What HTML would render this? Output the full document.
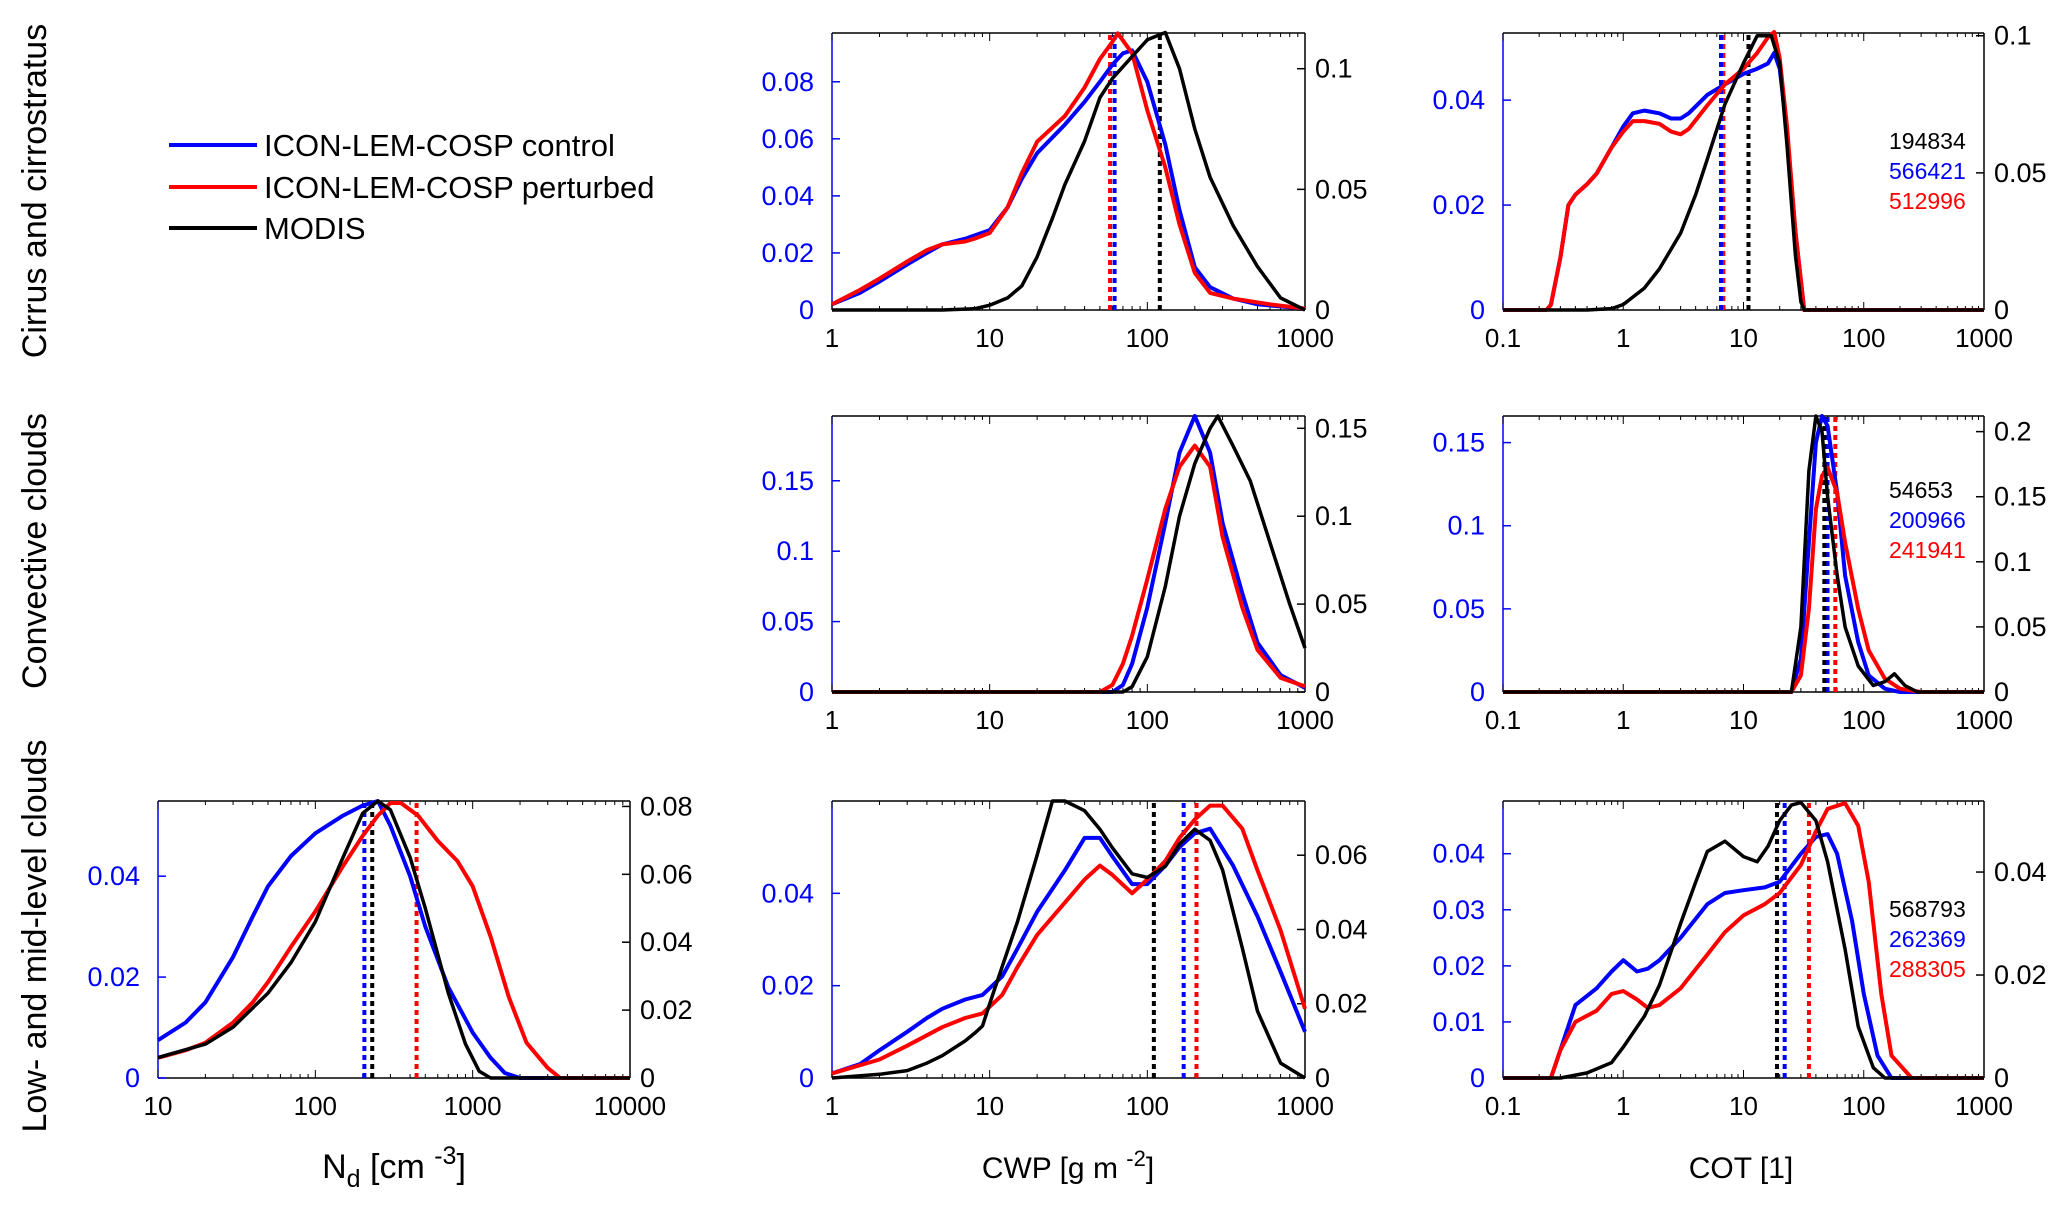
<!DOCTYPE html>
<html><head><meta charset="utf-8">
<style>
html,body{margin:0;padding:0;background:#fff;}
svg{display:block;font-family:"Liberation Sans",Arial,sans-serif;}
</style></head>
<body>
<svg id="fig" width="2067" height="1218" viewBox="0 0 2067 1218" xmlns="http://www.w3.org/2000/svg">
<g>
  <line x1="169" y1="145" x2="257" y2="145" stroke="#0000ff" stroke-width="4"/>
  <text x="264" y="156" font-size="31" fill="#000">ICON-LEM-COSP control</text>
  <line x1="169" y1="187" x2="257" y2="187" stroke="#ff0000" stroke-width="4"/>
  <text x="264" y="198" font-size="31" fill="#000">ICON-LEM-COSP perturbed</text>
  <line x1="169" y1="228" x2="257" y2="228" stroke="#000" stroke-width="4"/>
  <text x="264" y="239" font-size="31" fill="#000">MODIS</text>
</g>
<text transform="translate(46,191) rotate(-90)" text-anchor="middle" font-size="34">Cirrus and cirrostratus</text>
<text transform="translate(46,551) rotate(-90)" text-anchor="middle" font-size="34">Convective clouds</text>
<text transform="translate(46,936) rotate(-90)" text-anchor="middle" font-size="34">Low- and mid-level clouds</text>
<text x="394" y="1178" text-anchor="middle" font-size="34">N<tspan font-size="25" dy="9">d</tspan><tspan dy="-9"> [cm </tspan><tspan font-size="25" dy="-14">-3</tspan><tspan dy="14">]</tspan></text>
<text x="1068" y="1178" text-anchor="middle" font-size="30">CWP [g m <tspan font-size="22" dy="-12">-2</tspan><tspan dy="12">]</tspan></text>
<text x="1741" y="1178" text-anchor="middle" font-size="30">COT [1]</text>
</svg>
<script>
// ---------- data ----------
// Row 1 CWP (cirrus)
const cwp1Blue = [[1,0.002],[1.5,0.006],[2,0.010],[3,0.016],[4,0.020],[5,0.023],[7,0.025],[10,0.028],[13,0.036],[16,0.046],[20,0.055],[30,0.065],[40,0.073],[50,0.080],[60,0.086],[70,0.090],[80,0.091],[100,0.080],[130,0.058],[160,0.035],[200,0.015],[250,0.008],[350,0.004],[500,0.002],[1000,0.0005]];
const cwp1Red = [[1,0.002],[1.5,0.007],[2,0.011],[3,0.017],[4,0.021],[5,0.023],[7,0.024],[8,0.025],[10,0.027],[13,0.036],[16,0.048],[20,0.059],[30,0.068],[40,0.078],[50,0.088],[60,0.094],[65,0.097],[80,0.090],[100,0.070],[130,0.050],[160,0.030],[200,0.013],[250,0.006],[350,0.004],[600,0.002],[1000,0.0005]];
const cwp1Black = [[1,0],[5,0],[8,0.0005],[10,0.002],[13,0.005],[16,0.010],[20,0.022],[25,0.038],[30,0.052],[40,0.070],[50,0.088],[60,0.096],[80,0.105],[100,0.112],[130,0.115],[160,0.100],[200,0.075],[250,0.055],[350,0.035],[500,0.018],[700,0.005],[1000,0]];
const cwp1Medians = [58,62,120];
// Row 1 COT
const cot1Blue = [[0.1,0],[0.23,0],[0.25,0.001],[0.3,0.010],[0.35,0.020],[0.4,0.022],[0.5,0.024],[0.6,0.026],[0.8,0.031],[1,0.035],[1.2,0.0375],[1.5,0.038],[2,0.0375],[2.5,0.0365],[3,0.0365],[3.5,0.0375],[5,0.041],[7,0.043],[10,0.045],[13,0.046],[16,0.047],[18,0.049],[20,0.046],[23,0.034],[27,0.015],[32,0],[1000,0]];
const cot1Red = [[0.1,0],[0.23,0],[0.25,0.001],[0.3,0.010],[0.35,0.020],[0.4,0.022],[0.5,0.024],[0.6,0.026],[0.8,0.031],[1,0.034],[1.2,0.036],[1.5,0.036],[2,0.0355],[2.5,0.034],[3,0.0335],[3.5,0.0345],[5,0.039],[7,0.043],[10,0.046],[13,0.049],[16,0.052],[18,0.053],[20,0.048],[23,0.035],[27,0.015],[32,0],[1000,0]];
const cot1Black = [[0.1,0],[0.5,0],[0.8,0.0005],[1,0.002],[1.5,0.008],[2,0.015],[3,0.028],[4,0.042],[5,0.055],[7,0.075],[10,0.090],[13,0.100],[17,0.100],[20,0.090],[23,0.060],[27,0.020],[30,0.003],[32,0],[1000,0]];
const cot1Medians = [6.8,6.5,11];
const cot1Counts = ["194834","566421","512996"];
// Row 2 CWP
const cwp2Blue = [[1,0],[60,0],[70,0.005],[80,0.02],[100,0.06],[130,0.12],[160,0.17],[200,0.196],[250,0.17],[300,0.12],[400,0.07],[500,0.035],[700,0.012],[1000,0.003]];
const cwp2Red = [[1,0],[50,0],[60,0.005],[70,0.02],[80,0.04],[100,0.08],[130,0.13],[160,0.16],[200,0.175],[250,0.16],[300,0.11],[400,0.06],[500,0.03],[700,0.01],[1000,0.004]];
const cwp2Black = [[1,0],[70,0],[80,0.003],[100,0.02],[130,0.06],[160,0.10],[200,0.13],[250,0.15],[280,0.157],[350,0.14],[450,0.12],[600,0.085],[800,0.05],[1000,0.025]];
// Row 2 COT
const cot2Blue = [[0.1,0],[25,0],[30,0.02],[35,0.09],[40,0.15],[45,0.166],[50,0.16],[60,0.12],[70,0.07],[90,0.03],[110,0.01],[150,0.002],[200,0],[1000,0]];
const cot2Red = [[0.1,0],[25,0],[30,0.01],[35,0.05],[40,0.11],[45,0.13],[50,0.135],[60,0.12],[70,0.09],[90,0.05],[110,0.025],[150,0.008],[200,0.002],[300,0],[1000,0]];
const cot2Black = [[0.1,0],[25,0],[30,0.05],[35,0.17],[40,0.212],[45,0.2],[50,0.15],[60,0.09],[70,0.05],[90,0.02],[120,0.005],[150,0.008],[180,0.014],[220,0.005],[280,0],[1000,0]];
const cot2Medians = [58,50,47];
const cot2Counts = ["54653","200966","241941"];
// Row 3 Nd
const nd3Blue = [[10,0.0075],[15,0.011],[20,0.015],[30,0.024],[40,0.032],[50,0.038],[70,0.044],[100,0.0485],[150,0.052],[200,0.054],[250,0.0549],[300,0.050],[400,0.040],[500,0.030],[700,0.018],[1000,0.009],[1300,0.004],[1600,0.001],[2000,0],[10000,0]];
const nd3Red = [[10,0.004],[15,0.0055],[20,0.007],[30,0.011],[40,0.015],[50,0.019],[70,0.026],[100,0.033],[150,0.042],[200,0.048],[250,0.052],[300,0.0545],[350,0.0545],[450,0.052],[600,0.047],[800,0.043],[1000,0.038],[1300,0.028],[1700,0.016],[2200,0.007],[3000,0.002],[3600,0],[10000,0]];
const nd3Black = [[10,0.006],[20,0.010],[30,0.015],[50,0.025],[70,0.034],[100,0.046],[150,0.065],[200,0.078],[250,0.0816],[300,0.079],[400,0.065],[500,0.050],[700,0.025],[900,0.010],[1100,0.002],[1300,0],[10000,0]];
const nd3Medians = [440,205,230];
// Row 3 CWP
const cwp3Blue = [[1,0.001],[1.5,0.003],[2,0.006],[3,0.010],[4,0.013],[5,0.015],[7,0.017],[9,0.018],[12,0.022],[15,0.028],[20,0.036],[30,0.045],[40,0.052],[50,0.052],[60,0.048],[80,0.042],[100,0.042],[130,0.046],[160,0.050],[200,0.053],[250,0.054],[350,0.046],[500,0.035],[700,0.023],[1000,0.010]];
const cwp3Red = [[1,0.001],[2,0.004],[3,0.007],[5,0.011],[7,0.013],[9,0.014],[12,0.018],[15,0.024],[20,0.031],[30,0.038],[40,0.043],[50,0.046],[60,0.044],[80,0.040],[100,0.043],[130,0.047],[160,0.052],[200,0.056],[250,0.059],[300,0.059],[400,0.054],[500,0.045],[700,0.032],[1000,0.015]];
const cwp3Black = [[1,0],[2,0.001],[3,0.002],[4,0.004],[5,0.006],[7,0.010],[8,0.012],[9,0.014],[10,0.020],[12,0.030],[15,0.042],[20,0.060],[25,0.0746],[30,0.0746],[40,0.072],[50,0.067],[60,0.062],[80,0.055],[100,0.054],[130,0.057],[160,0.063],[200,0.067],[250,0.064],[300,0.056],[400,0.035],[500,0.018],[700,0.004],[1000,0]];
const cwp3Medians = [205,170,110];
// Row 3 COT
const cot3Blue = [[0.1,0],[0.25,0],[0.3,0.005],[0.4,0.013],[0.6,0.016],[0.8,0.019],[1,0.021],[1.3,0.019],[1.6,0.0195],[2,0.021],[3,0.025],[5,0.031],[7,0.033],[10,0.0335],[15,0.034],[20,0.035],[30,0.040],[40,0.043],[50,0.0435],[60,0.040],[80,0.028],[100,0.015],[130,0.004],[170,0],[1000,0]];
const cot3Red = [[0.1,0],[0.25,0],[0.3,0.005],[0.4,0.010],[0.6,0.012],[0.8,0.015],[1,0.0155],[1.3,0.014],[1.6,0.0125],[2,0.013],[3,0.016],[5,0.022],[7,0.026],[10,0.029],[15,0.031],[20,0.033],[30,0.038],[40,0.044],[50,0.048],[70,0.049],[90,0.045],[110,0.035],[140,0.015],[170,0.004],[250,0],[1000,0]];
const cot3Black = [[0.1,0],[0.3,0],[0.5,0.001],[0.8,0.003],[1,0.006],[1.5,0.012],[2,0.018],[3,0.030],[4,0.038],[5,0.044],[7,0.046],[10,0.043],[13,0.042],[16,0.045],[20,0.050],[25,0.053],[30,0.0535],[40,0.050],[50,0.042],[70,0.025],[90,0.010],[120,0.002],[150,0],[1000,0]];
const cot3Medians = [35,22,19];
const cot3Counts = ["568793","262369","288305"];

// tick labels
const cwp1LeftTicks = [0,0.02,0.04,0.06,0.08];
const cwp1RightTicks = [0,0.05,0.1];
const cot1LeftTicks = [0,0.02,0.04];
const cot1RightTicks = [0,0.05,0.1];
const cwp2LeftTicks = [0,0.05,0.1,0.15];
const cwp2RightTicks = [0,0.05,0.1,0.15];
const cot2LeftTicks = [0,0.05,0.1,0.15];
const cot2RightTicks = [0,0.05,0.1,0.15,0.2];
const nd3LeftTicks = [0,0.02,0.04];
const nd3RightTicks = [0,0.02,0.04,0.06,0.08];
const cwp3LeftTicks = [0,0.02,0.04];
const cwp3RightTicks = [0,0.02,0.04,0.06];
const cot3LeftTicks = [0,0.01,0.02,0.03,0.04];
const cot3RightTicks = [0,0.02,0.04];

// ---------- drawing ----------
const NS = "http://www.w3.org/2000/svg";
const svg = document.getElementById("fig");
function mk(tag, attrs, parent){
  const e = document.createElementNS(NS, tag);
  for (const k in attrs) e.setAttribute(k, attrs[k]);
  (parent||svg).appendChild(e);
  return e;
}
function fmt(v){ return String(v); }

function panel(cfg){
  const g = mk("g", {});
  
  
  const L=cfg.l,R=cfg.r,T=cfg.t,B=cfg.b;
  const lx0=Math.log10(cfg.xmin), lx1=Math.log10(cfg.xmax);
  const X = v => L + (Math.log10(v)-lx0)/(lx1-lx0)*(R-L);
  const YL = v => B - v/cfg.lmax*(B-T);
  const YR = v => B - v/cfg.rmax*(B-T);
  mk("line",{x1:L,y1:T,x2:R,y2:T,stroke:"#000","stroke-width":1.5},g);
  mk("line",{x1:L,y1:B,x2:R,y2:B,stroke:"#000","stroke-width":1.5},g);
  mk("line",{x1:R,y1:T,x2:R,y2:B,stroke:"#000","stroke-width":1.5},g);
  mk("line",{x1:L,y1:T,x2:L,y2:B,stroke:"#0000ff","stroke-width":1.5},g);
  for (let d=Math.round(lx0); d<Math.round(lx1); d++){
    for (let m=1;m<10;m++){
      const v=m*Math.pow(10,d); const x=X(v); const len=(m===1)?8:4;
      mk("line",{x1:x,y1:B,x2:x,y2:B-len,stroke:"#000","stroke-width":1},g);
      mk("line",{x1:x,y1:T,x2:x,y2:T+len,stroke:"#000","stroke-width":1},g);
    }
  }
  for (let d=Math.round(lx0); d<=Math.round(lx1); d++){
    const v=Math.pow(10,d);
    const t=mk("text",{x:X(v),y:B+37,"text-anchor":"middle","font-size":26,fill:"#000"},g);
    t.textContent = d<0 ? v.toFixed(-d) : String(v);
    
    
  }
  cfg.lticks.forEach(v=>{
    const y=YL(v);
    mk("line",{x1:L,y1:y,x2:L+8,y2:y,stroke:"#0000ff","stroke-width":1.5},g);
    const t=mk("text",{x:L-18,y:y+9,"text-anchor":"end","font-size":27,fill:"#0000ff"},g);
    t.textContent=fmt(v);
    
    
  });
  cfg.rticks.forEach(v=>{
    const y=YR(v);
    mk("line",{x1:R,y1:y,x2:R-8,y2:y,stroke:"#000","stroke-width":1.5},g);
    const t=mk("text",{x:R+10,y:y+9,"text-anchor":"start","font-size":27,fill:"#000"},g);
    t.textContent=fmt(v);
    
    
  });
  if (cfg.medians){
    const cols=["#ff0000","#0000ff","#000"];
    cfg.medians.forEach((v,i)=>{
      const x=X(v);
      const ln=mk("line",{x1:x,y1:B,x2:x,y2:T,stroke:cols[i],"stroke-width":4,"stroke-dasharray":"5 4"},g);
      
      
    });
  }
  const ser=[[cfg.blue,"#0000ff",YL,"series-control"],[cfg.red,"#ff0000",YL,"series-perturbed"],[cfg.black,"#000",YR,"series-modis"]];
  ser.forEach(s=>{
    const pts=s[0].map(p=>X(p[0]).toFixed(1)+","+s[2](p[1]).toFixed(1)).join(" ");
    const pl=mk("polyline",{points:pts,fill:"none",stroke:s[1],"stroke-width":s[1]==="#000"?3.5:4,"stroke-linejoin":"round"},g);
    
    
  });
  if (cfg.counts){
    const cols=["#000","#0000ff","#ff0000"];
    cfg.counts.forEach((c,i)=>{
      const t=mk("text",{x:cfg.cx,y:cfg.cy+i*30,"font-size":23,fill:cols[i]},g);
      t.textContent=c;
      
      
    });
  }
}

const rows=[[33,310],[416,692],[801,1078]];
const colCWP=[832,1305], colCOT=[1503,1984], colNd=[158,630];

panel({name:"panel-cirrus-cwp",l:colCWP[0],r:colCWP[1],t:rows[0][0],b:rows[0][1],xmin:1,xmax:1000,lmax:0.0971,rmax:0.1148,lticks:cwp1LeftTicks,rticks:cwp1RightTicks,blue:cwp1Blue,red:cwp1Red,black:cwp1Black,medians:cwp1Medians});
panel({name:"panel-cirrus-cot",l:colCOT[0],r:colCOT[1],t:rows[0][0],b:rows[0][1],xmin:0.1,xmax:1000,lmax:0.0528,rmax:0.101,lticks:cot1LeftTicks,rticks:cot1RightTicks,blue:cot1Blue,red:cot1Red,black:cot1Black,medians:cot1Medians,counts:cot1Counts,cx:1889,cy:149});
panel({name:"panel-convective-cwp",l:colCWP[0],r:colCWP[1],t:rows[1][0],b:rows[1][1],xmin:1,xmax:1000,lmax:0.196,rmax:0.157,lticks:cwp2LeftTicks,rticks:cwp2RightTicks,blue:cwp2Blue,red:cwp2Red,black:cwp2Black});
panel({name:"panel-convective-cot",l:colCOT[0],r:colCOT[1],t:rows[1][0],b:rows[1][1],xmin:0.1,xmax:1000,lmax:0.166,rmax:0.212,lticks:cot2LeftTicks,rticks:cot2RightTicks,blue:cot2Blue,red:cot2Red,black:cot2Black,medians:cot2Medians,counts:cot2Counts,cx:1889,cy:498});
panel({name:"panel-low-nd",l:colNd[0],r:colNd[1],t:rows[2][0],b:rows[2][1],xmin:10,xmax:10000,lmax:0.0549,rmax:0.0816,lticks:nd3LeftTicks,rticks:nd3RightTicks,blue:nd3Blue,red:nd3Red,black:nd3Black,medians:nd3Medians});
panel({name:"panel-low-cwp",l:colCWP[0],r:colCWP[1],t:rows[2][0],b:rows[2][1],xmin:1,xmax:1000,lmax:0.06,rmax:0.0746,lticks:cwp3LeftTicks,rticks:cwp3RightTicks,blue:cwp3Blue,red:cwp3Red,black:cwp3Black,medians:cwp3Medians});
panel({name:"panel-low-cot",l:colCOT[0],r:colCOT[1],t:rows[2][0],b:rows[2][1],xmin:0.1,xmax:1000,lmax:0.0494,rmax:0.0538,lticks:cot3LeftTicks,rticks:cot3RightTicks,blue:cot3Blue,red:cot3Red,black:cot3Black,medians:cot3Medians,counts:cot3Counts,cx:1889,cy:917});
</script>
</body></html>
